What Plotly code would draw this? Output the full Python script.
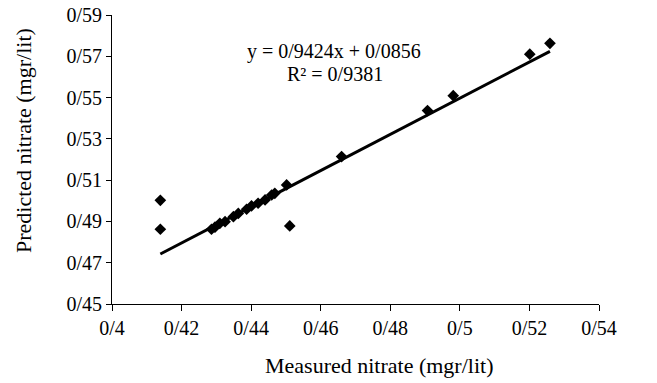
import numpy as np
import plotly.graph_objects as go

measured = [0.4139, 0.4139, 0.4286, 0.4296, 0.4310, 0.4325, 0.4349, 0.4363, 0.4387,
            0.4401, 0.4420, 0.4440, 0.4459, 0.4468, 0.4502, 0.4511, 0.4660, 0.4907,
            0.4981, 0.5201, 0.5259]
predicted = [0.5002, 0.4862, 0.4862, 0.4872, 0.4891, 0.4899, 0.4923, 0.4939, 0.4959,
             0.4975, 0.4988, 0.5004, 0.5028, 0.5036, 0.5077, 0.4878, 0.5214, 0.5437,
             0.5509, 0.5710, 0.5763]

# trendline as drawn in the picture
trend_slope = 0.8764
trend_intercept = 0.1115

x_ticks = [0.40, 0.42, 0.44, 0.46, 0.48, 0.50, 0.52, 0.54]
x_labels = ["0/4", "0/42", "0/44", "0/46", "0/48", "0/5", "0/52", "0/54"]
y_ticks = [0.45, 0.47, 0.49, 0.51, 0.53, 0.55, 0.57, 0.59]
y_labels = ["0/45", "0/47", "0/49", "0/51", "0/53", "0/55", "0/57", "0/59"]

eq_text = "y = 0/9424x + 0/0856"
r2_text = "R² = 0/9381"
x_title = "Measured nitrate (mgr/lit)"
y_title = "Predicted nitrate (mgr/lit)"

xs = np.array([min(measured), max(measured)])
ys = trend_slope * xs + trend_intercept

font = "Liberation Serif, Times New Roman, serif"

fig = go.Figure()
fig.add_trace(go.Scatter(x=xs, y=ys, mode="lines",
                         line=dict(color="black", width=3), showlegend=False))
fig.add_trace(go.Scatter(x=measured, y=predicted, mode="markers",
                         marker=dict(symbol="diamond", size=9, color="black"),
                         showlegend=False))

fig.add_annotation(x=0.4638, y=0.5721, xref="x", yref="y", text=eq_text,
                   xanchor="center", yanchor="middle", borderpad=0,
                   showarrow=False, font=dict(family=font, size=20, color="black"))
fig.add_annotation(x=0.4640, y=0.5616, xref="x", yref="y", text=r2_text,
                   xanchor="center", yanchor="middle", borderpad=0,
                   showarrow=False, font=dict(family=font, size=20, color="black"))

fig.add_annotation(x=0.548, y=-0.2145, xref="paper", yref="paper", text=x_title,
                   xanchor="center", yanchor="middle",
                   showarrow=False, font=dict(family=font, size=22, color="black"))
fig.add_annotation(x=-0.1807, y=0.5675, xref="paper", yref="paper", text=y_title,
                   xanchor="center", yanchor="middle",
                   textangle=-90, showarrow=False,
                   font=dict(family=font, size=22, color="black"))

fig.update_layout(
    width=657, height=383,
    margin=dict(l=112, r=58, t=15, b=79),
    paper_bgcolor="white", plot_bgcolor="white",
    font=dict(family=font, size=20, color="black"),
    xaxis=dict(range=[0.40, 0.54], tickvals=x_ticks, ticktext=x_labels,
               showgrid=False, zeroline=False, showline=True, linecolor="black",
               linewidth=1, ticks="outside", ticklen=6, tickcolor="black",
               automargin=False, tickfont=dict(size=20)),
    yaxis=dict(range=[0.45, 0.59], tickvals=y_ticks, ticktext=y_labels,
               showgrid=False, zeroline=False, showline=True, linecolor="black",
               linewidth=1, ticks="outside", ticklen=5, tickcolor="black",
               automargin=False, tickfont=dict(size=20)),
)

fig.write_html("out.html", config={"displayModeBar": False},
               post_script="document.body.style.margin='0';document.body.style.overflow='hidden';")
